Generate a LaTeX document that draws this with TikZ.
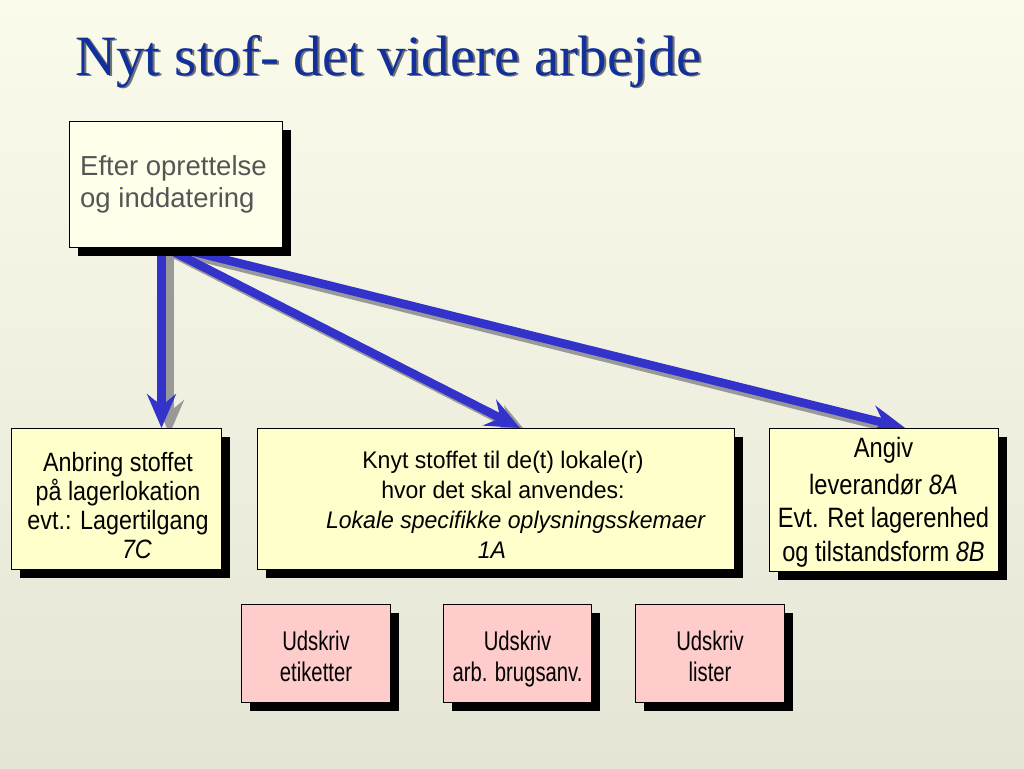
\documentclass[tikz,border=0pt]{standalone}
\usepackage{fontspec}
\setmainfont{Liberation Sans}
\newfontfamily\titlefont{Liberation Serif}
\newfontfamily\condA[FakeStretch=0.88]{Liberation Sans}
\newfontfamily\condB[FakeStretch=0.96]{Liberation Sans}
\newfontfamily\condC[FakeStretch=0.845]{Liberation Sans}
\newfontfamily\condD[FakeStretch=0.75]{Liberation Sans}
\usetikzlibrary{arrows.meta,patterns,shadows,calc}
\pgfdeclarelayer{backdrop}
\pgfdeclarelayer{arrowlayer}
\pgfsetlayers{backdrop,arrowlayer,main}
\definecolor{bgtop}{HTML}{FBFBEB}
\definecolor{bgbot}{HTML}{E5E5D5}
\definecolor{titleblue}{HTML}{12309A}
\definecolor{arrowblue}{HTML}{3333CC}
\definecolor{arrowgray}{HTML}{999999}
\definecolor{boxyellow}{HTML}{FFFFCC}
\definecolor{boxpink}{HTML}{FFCCCC}
\definecolor{topfill}{HTML}{FFFFE2}
\definecolor{toptext}{HTML}{555555}
\tikzset{
  boxbase/.style={draw=black, line width=1pt, rectangle, inner sep=0pt, anchor=north west,
    drop shadow={shadow xshift=8pt, shadow yshift=-8pt, opacity=1, fill=black}},
  yellowbox/.style={boxbase, fill=boxyellow},
  pinkbox/.style={boxbase, fill=boxpink},
  topbox/.style={boxbase, preaction={fill=topfill}, pattern=north east lines, pattern color=white},
  txt/.style={inner sep=0pt, anchor=north, align=center},
  flowarrow/.style={line width=8.5pt, draw=arrowblue, -{Stealth[length=34pt,width=29pt,inset=12pt,fill=arrowblue]}},
  flowshadow/.style={line width=8.5pt, draw=arrowgray, -{Stealth[length=34pt,width=29pt,inset=12pt,fill=arrowgray]},
    transform canvas={xshift=8pt, yshift=-6pt}}
}
\begin{document}
\begin{tikzpicture}[x=1pt,y=-1pt]
\begin{pgfonlayer}{backdrop}
\path[top color=bgtop, bottom color=bgbot] (0,0) rectangle (1024,768);
\end{pgfonlayer}
\useasboundingbox (0,0) rectangle (1024,768);

% title
\node[anchor=base west, inner sep=0pt, text=black!55, font=\titlefont\fontsize{57}{60}\selectfont] (titleshadow) at (77,77) {Nyt stof- det videre arbejde};
\node[anchor=base west, inner sep=0pt, text=titleblue, font=\titlefont\fontsize{57}{60}\selectfont] (title) at (75,75) {Nyt stof- det videre arbejde};

\coordinate (s1) at (161.5,246);
\coordinate (s2) at (166,248);
\coordinate (s3) at (170,246);

% top box
\node[topbox, minimum width=213pt, minimum height=126pt] (top) at (69,121) {};
\node[inner sep=0pt, anchor=north west, align=left, text=toptext,
  font=\fontsize{27.5}{32}\selectfont] (toptxt) at (80,155) {Efter oprettelse\\og inddatering};

% yellow boxes
\node[yellowbox, minimum width=210pt, minimum height=141pt] (b1) at (11,428) {};
\node[yellowbox, minimum width=477pt, minimum height=141pt] (b2) at (257,428) {};
\node[yellowbox, minimum width=229pt, minimum height=143pt] (b3) at (769,428) {};

% arrows (behind the boxes)
\coordinate (t1) at (s1 |- b1.north);
\coordinate (t2) at ($(b2.north)+(24,0)$);
\coordinate (t3) at ($(b3.north)+(21,0)$);
\begin{pgfonlayer}{arrowlayer}
\draw[flowshadow] (s3) -- (t3);
\draw[flowshadow] (s2) -- (t2);
\draw[flowshadow] (s1) -- (t1);
\draw[flowarrow] (s3) -- (t3);
\draw[flowarrow] (s2) -- (t2);
\draw[flowarrow] (s1) -- (t1);
\end{pgfonlayer}

% texts of the yellow boxes
\node[txt, font=\condA\fontsize{26.5}{29}\selectfont] (b1txt) at (118,452)
  {Anbring stoffet\\på lagerlokation\\evt.: Lagertilgang\\\hspace*{38pt}\textit{7C}};
\node[txt, font=\condB\fontsize{24}{30}\selectfont] (b2txt) at (503,450.5)
  {Knyt stoffet til de(t) lokale(r)\\hvor det skal anvendes:\\\hspace*{26pt}\textit{Lokale specifikke oplysningsskemaer}\\\hspace*{-22pt}\textit{1A}};
\node[txt, font=\condC\fontsize{28}{33.5}\selectfont] (b3txt) at (883.5,437.5)
  {Angiv\\[3pt]leverandør \textit{8A}\\Evt. Ret lagerenhed\\og tilstandsform \textit{8B}};

% pink boxes
\node[pinkbox, minimum width=149pt, minimum height=98pt] (p1) at (241,604) {};
\node[pinkbox, minimum width=148pt, minimum height=98pt] (p2) at (443,604) {};
\node[pinkbox, minimum width=149pt, minimum height=98pt] (p3) at (635,604) {};
\node[txt, font=\condD\fontsize{27}{31}\selectfont] (p1txt) at (p1.center |- 0,630.5) {Udskriv\\etiketter};
\node[txt, font=\condD\fontsize{27}{31}\selectfont] (p2txt) at (p2.center |- 0,630.5) {Udskriv\\arb. brugsanv.};
\node[txt, font=\condD\fontsize{27}{31}\selectfont] (p3txt) at (p3.center |- 0,630.5) {Udskriv\\lister};
\end{tikzpicture}
\end{document}
